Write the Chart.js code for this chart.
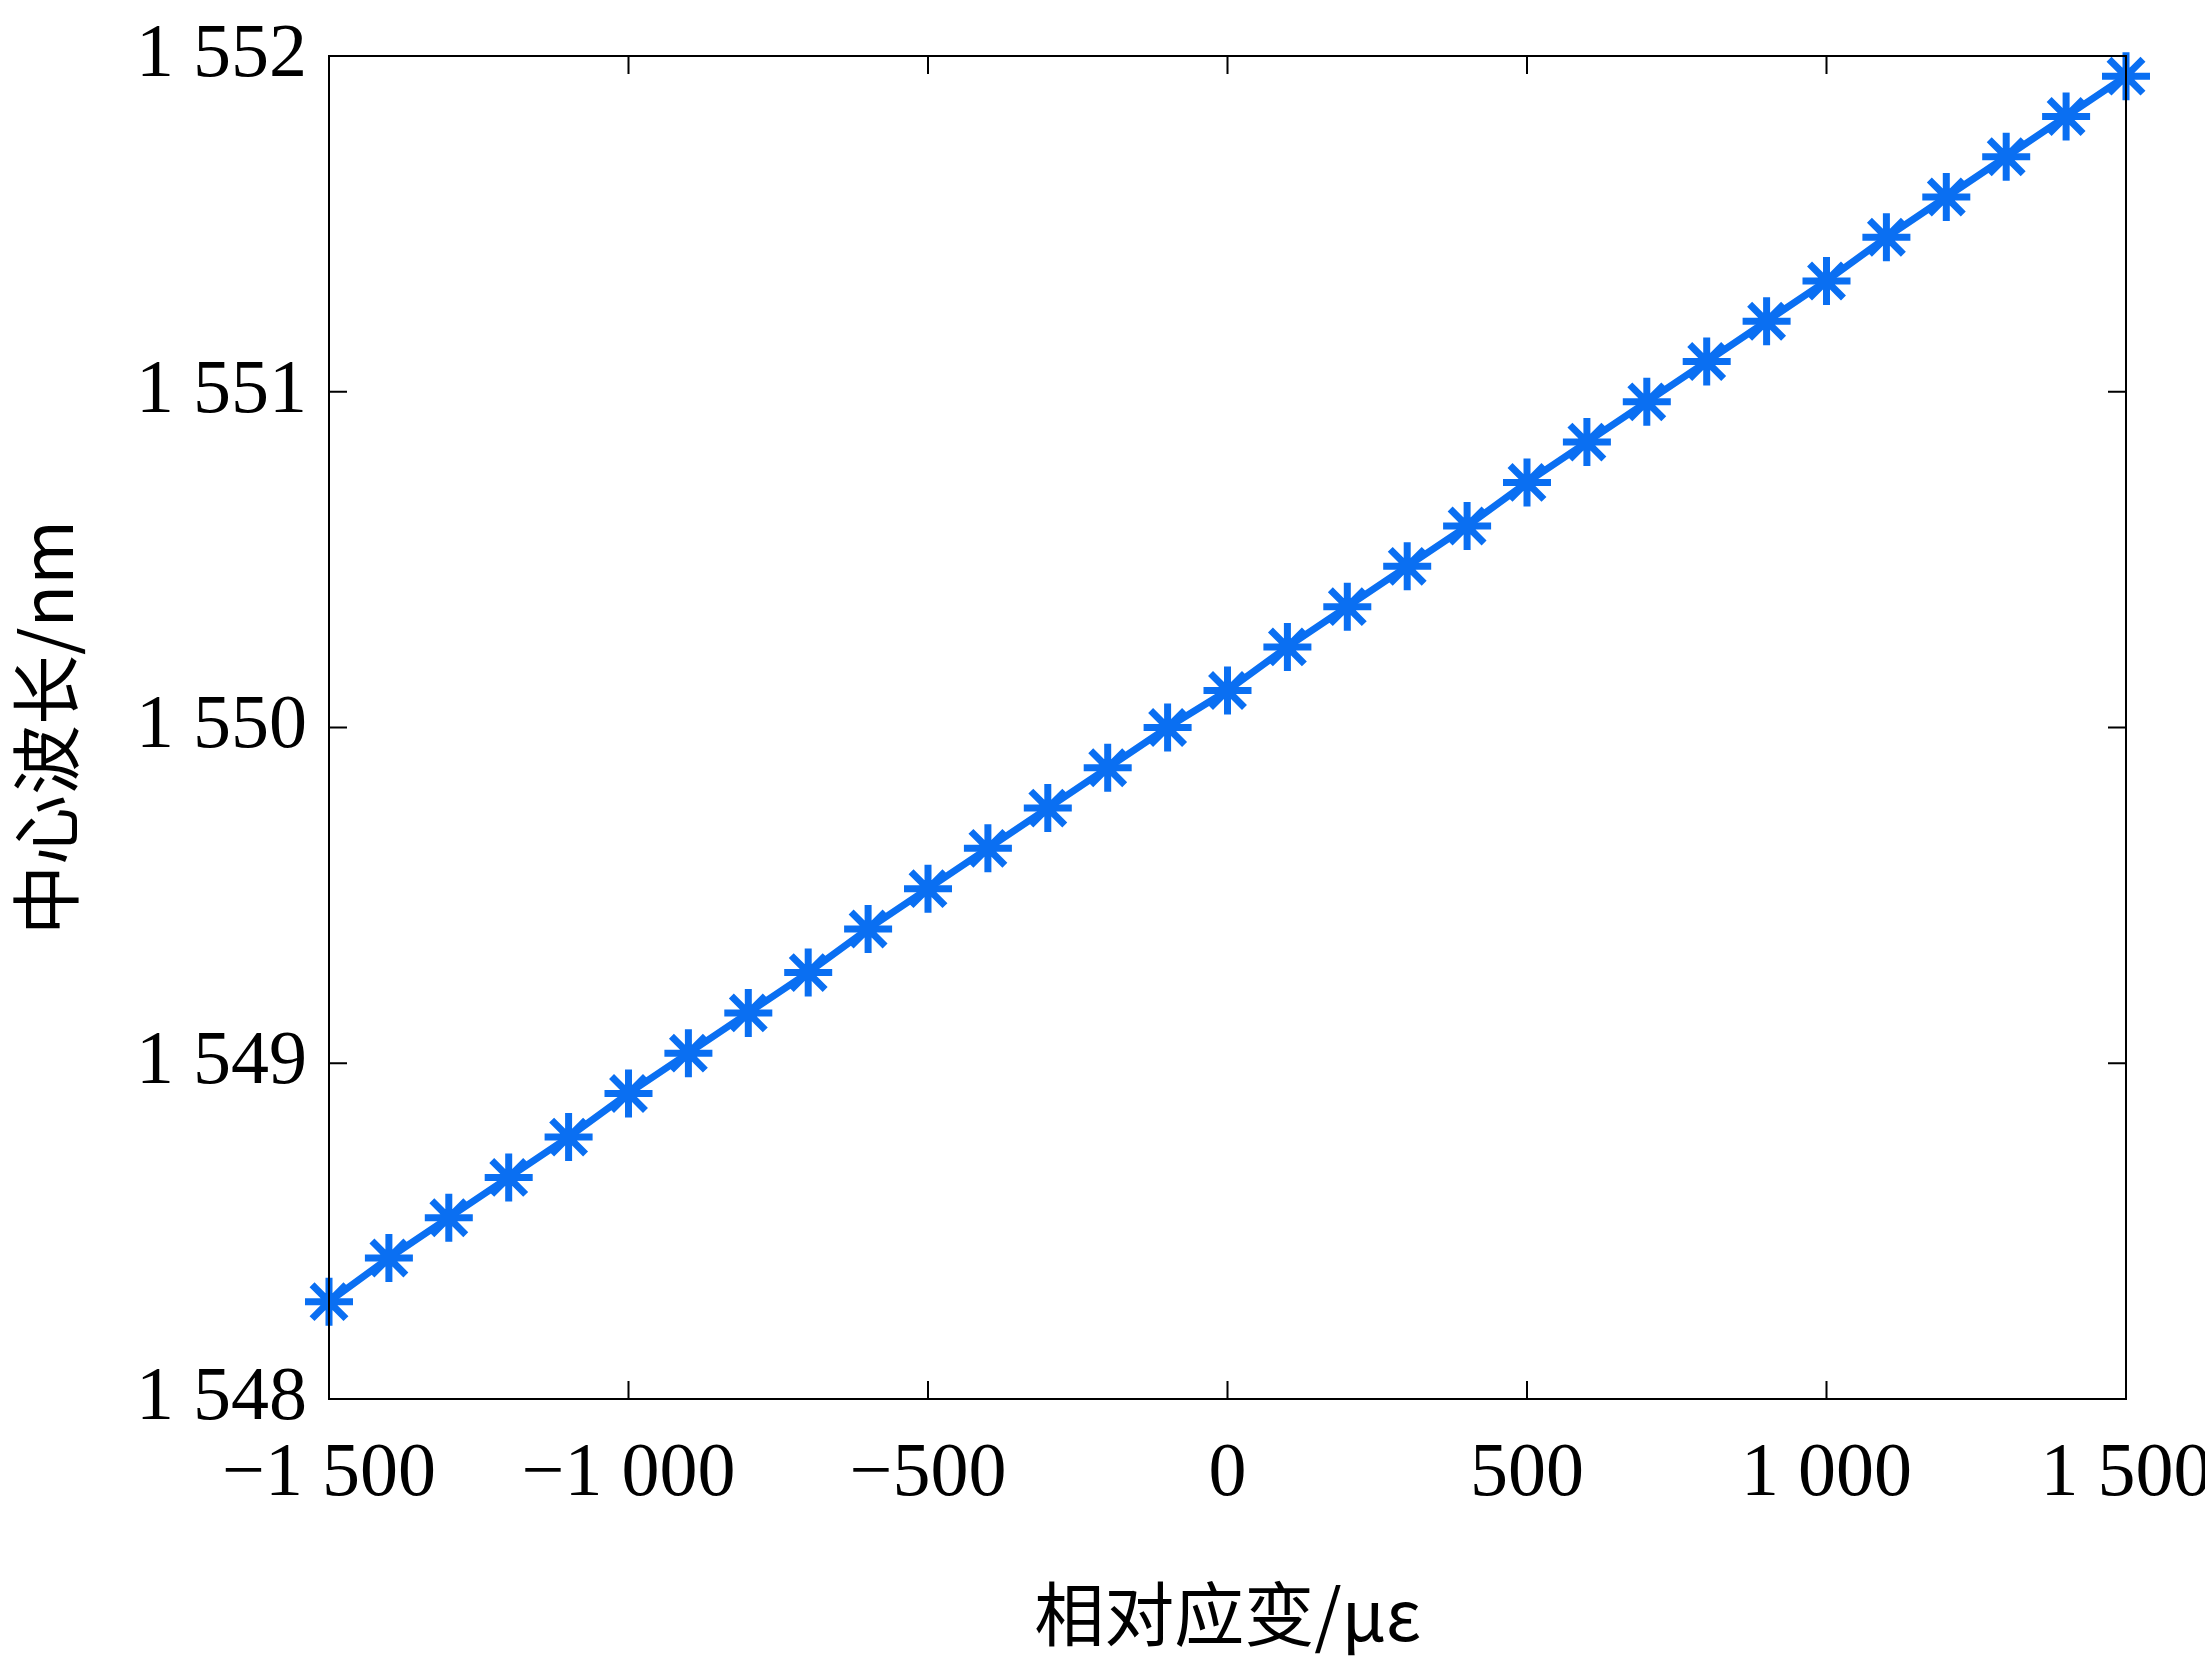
<!DOCTYPE html>
<html><head><meta charset="utf-8">
<script src="https://cdn.jsdelivr.net/npm/chart.js@4.4.0/dist/chart.umd.min.js"></script>
<style>html,body{margin:0;background:#fff}#wrap{width:2205px;height:1660px}</style>
</head><body><div id="wrap"><canvas id="c"></canvas></div>
<script>
const strain = [-1500,-1400,-1300,-1200,-1100,-1000,-900,-800,-700,-600,-500,-400,-300,-200,-100,0,100,200,300,400,500,600,700,800,900,1000,1100,1200,1300,1400,1500];
const wavelength = [1548.29,1548.42,1548.54,1548.66,1548.78,1548.91,1549.03,1549.15,1549.27,1549.40,1549.52,1549.64,1549.76,1549.88,1550.00,1550.11,1550.24,1550.36,1550.48,1550.60,1550.73,1550.85,1550.97,1551.09,1551.21,1551.33,1551.46,1551.58,1551.70,1551.82,1551.94];
const xTicks = [-1500,-1000,-500,0,500,1000,1500];
const yTicks = [1548,1549,1550,1551,1552];

const BLUE = "#0a6ff2";
const fmt = v => {
  const s = Math.abs(v).toString().replace(/\B(?=(\d{3})+(?!\d))/g, " ");
  return (v < 0 ? "\u2212" : "") + s;
};

// inward ticks on all four sides
const boxTicks = {
  id: "boxTicks",
  afterDraw(chart) {
    const {ctx, chartArea: a, scales: {x, y}} = chart;
    const L = 18;
    ctx.save();
    ctx.strokeStyle = "#000";
    ctx.lineWidth = 2;
    ctx.strokeRect(a.left, a.top, a.right - a.left, a.bottom - a.top);
    ctx.beginPath();
    xTicks.forEach(v => {
      const px = x.getPixelForValue(v);
      ctx.moveTo(px, a.bottom); ctx.lineTo(px, a.bottom - L);
      ctx.moveTo(px, a.top); ctx.lineTo(px, a.top + L);
    });
    yTicks.forEach(v => {
      const py = y.getPixelForValue(v);
      ctx.moveTo(a.left, py); ctx.lineTo(a.left + L, py);
      ctx.moveTo(a.right, py); ctx.lineTo(a.right - L, py);
    });
    ctx.stroke();
    ctx.restore();
  }
};

new Chart(document.getElementById("c"), {
  type: "line",
  data: {
    datasets: [{
      data: strain.map((s, i) => ({x: s, y: wavelength[i]})),
      borderColor: BLUE,
      backgroundColor: BLUE,
      borderWidth: 7,
      pointStyle: "star",
      pointRadius: 24,
      pointBorderWidth: 7,
      pointBorderColor: BLUE,
      tension: 0,
      clip: false
    }]
  },
  plugins: [boxTicks],
  options: {
    responsive: true,
    maintainAspectRatio: false,
    animation: false,
    layout: {padding: {top: 56, right: 79, left: 0, bottom: 0}},
    plugins: {legend: {display: false}, tooltip: {enabled: false}},
    scales: {
      x: {
        type: "linear", min: -1500, max: 1500,
        afterBuildTicks: s => { s.ticks = xTicks.map(v => ({value: v})); },
        afterFit: s => { s.height = 261; s.paddingLeft = 0; s.paddingRight = 0; },
        grid: {display: false},
        border: {display: false},
        ticks: {color: "#000", padding: 22, maxRotation: 0, font: {family: "Liberation Serif", size: 76}, callback: fmt},
        title: {display: true, text: "相对应变/με", color: "#000", padding: {top: 14}, font: {family: "Noto Sans CJK SC, Liberation Serif", size: 70}}
      },
      y: {
        min: 1548, max: 1552,
        afterBuildTicks: s => { s.ticks = yTicks.map(v => ({value: v})); },
        afterFit: s => { s.width = 329; s.paddingTop = 0; s.paddingBottom = 0; },
        grid: {display: false},
        border: {display: false},
        ticks: {color: "#000", padding: 14, font: {family: "Liberation Serif", size: 76}, callback: fmt},
        title: {display: true, text: "中心波长/nm", color: "#000", padding: {bottom: 4}, font: {family: "Noto Sans CJK SC, Liberation Serif", size: 70}}
      }
    }
  }
});
</script></body></html>
